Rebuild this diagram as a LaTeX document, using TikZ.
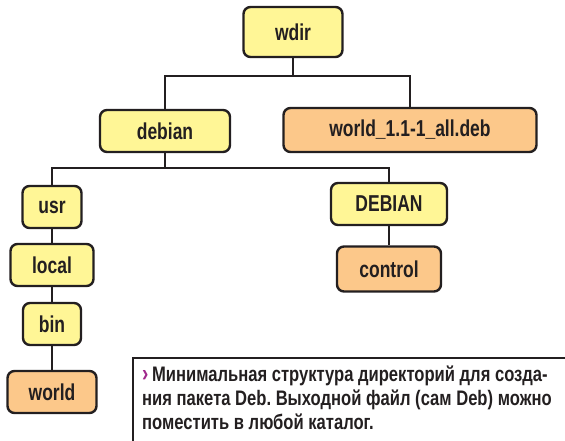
\documentclass[tikz,border=0pt]{standalone}
\usepackage{fontspec}
\usepackage{xcolor}
\newfontfamily\narrowsans{Liberation Sans}[FakeStretch=0.76]
\newfontfamily\capsans{Liberation Sans}[FakeStretch=0.79]
\definecolor{dirYellow}{RGB}{255,246,150}
\definecolor{fileOrange}{RGB}{252,200,138}
\definecolor{lineDark}{RGB}{35,31,32}
\definecolor{chevronPurple}{RGB}{160,40,140}
\newcommand{\boxfont}{\narrowsans\bfseries\fontsize{23}{24}\selectfont}
\newcommand{\capfont}{\capsans\bfseries\fontsize{21}{24}\selectfont\frenchspacing}
\usetikzlibrary{positioning}

\begin{document}
\begin{tikzpicture}[
    x=1pt, y=-1pt,
    dirbox/.style={draw=lineDark, fill=dirYellow, rounded corners=7pt,
                   line width=2.4pt, font=\boxfont, text=lineDark,
                   minimum height=42pt, inner sep=0pt},
    filebox/.style={dirbox, fill=fileOrange},
    link/.style={draw=lineDark, line width=2pt}
  ]
  \useasboundingbox (0,0) rectangle (565,441);

  % top level
  \node[dirbox, minimum width=99pt, minimum height=50pt] (wdir) at (293,32) {wdir};
  \node[dirbox, minimum width=130pt] (debian) at (165,131) {debian};
  \node[filebox, minimum width=253pt, minimum height=44pt] (debfile) at (410,130) {world\_1.1-1\_all.deb};

  % left branch
  \node[dirbox, minimum width=59pt] (usr) at (52,207) {usr};
  \node[dirbox, minimum width=83pt] (local) at (52,265) {local};
  \node[dirbox, minimum width=58pt] (bin) at (52,324) {bin};
  \node[filebox, minimum width=89pt] (world) at (52,392) {world};

  % right branch
  \node[dirbox, minimum width=116pt] (DEBIAN) at (389,204) {DEBIAN};
  \node[filebox, minimum width=104pt, minimum height=45pt] (control) at (389,269) {control};

  % links
  \coordinate (bus1) at (293,76);
  \coordinate (bus2) at (165,168);
  \draw[link] (wdir.south) -- (bus1);
  \draw[link] (debian.north) |- (bus1) -| (debfile.north);
  \draw[link] (debian.south) -- (bus2);
  \draw[link] (usr.north) |- (bus2) -| (DEBIAN.north);
  \draw[link] (usr) -- (local);
  \draw[link] (local) -- (bin);
  \draw[link] (bin) -- (world);
  \draw[link] (DEBIAN) -- (control);

  % caption
  \draw[lineDark, line width=1.2pt] (565,358) -- (133,358) -- (133,441);
  \node[anchor=north west, align=left, inner sep=0pt, font=\capfont, text=lineDark]
    (caption) at (142,366)
    {{\color{chevronPurple}\fontsize{24}{24}\selectfont›}\,Минимальная структура директорий для созда-\\
     ния пакета Deb. Выходной файл (сам Deb) можно\\
     поместить в любой каталог.};
\end{tikzpicture}
\end{document}
